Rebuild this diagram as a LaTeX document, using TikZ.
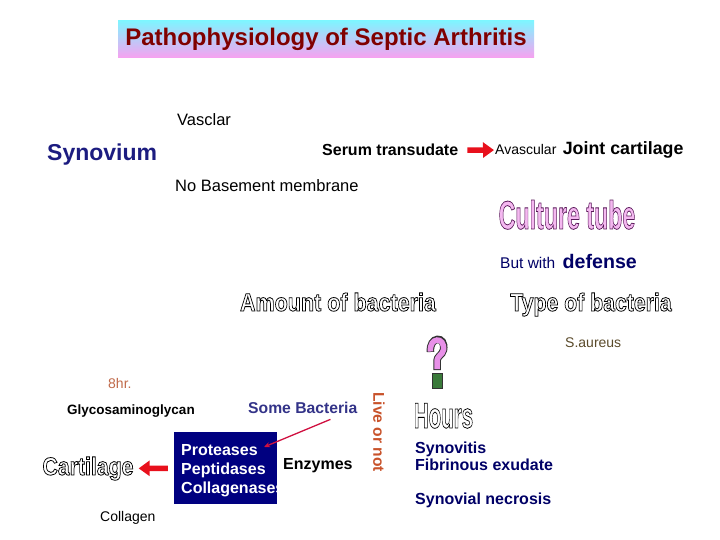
\documentclass[tikz,border=0pt]{standalone}
\usepackage{fontspec}
\setmainfont{Liberation Sans}
\usepackage{graphicx}
\usetikzlibrary{arrows.meta, positioning, calc}
\definecolor{titlered}{HTML}{800000}
\definecolor{titletop}{HTML}{80F4FF}
\definecolor{titlebot}{HTML}{F8A0F0}
\definecolor{synnavy}{HTML}{1C1C80}
\definecolor{bactblue}{HTML}{333388}
\definecolor{deepnavy}{HTML}{000066}
\definecolor{boxnavy}{HTML}{000080}
\definecolor{liveor}{HTML}{C8522A}
\definecolor{hrbrown}{HTML}{C06A4A}
\definecolor{aureus}{HTML}{5A4A2A}
\definecolor{arrowred}{HTML}{E8101C}
\definecolor{thinred}{HTML}{D01040}
\definecolor{cultpink}{HTML}{F4B8F0}
\definecolor{qpink}{HTML}{E890E8}
\definecolor{qgreen}{HTML}{3A7A3A}
\newcommand\wordart[4]{\scalebox{#1}[1]{{\color{#2}\special{pdf:literal direct #3 RG 0.8 w 2 Tr}#4\special{pdf:literal direct 0 Tr}}}}

\begin{document}
\begin{tikzpicture}[
    x=1pt, y=-1pt,
    txt/.style={inner sep=0pt, anchor=base west, font=\fontsize{16.5}{19}\selectfont},
    small/.style={txt, font=\fontsize{14}{17}\selectfont},
    boldtxt/.style={txt, font=\fontsize{16}{17}\selectfont\bfseries},
    art/.style={inner sep=0pt, anchor=base, font=\fontsize{#1}{#1}\selectfont\bfseries},
    titlebox/.style={rectangle, minimum width=416pt, minimum height=37pt, inner sep=0pt, top color=titletop, bottom color=titlebot, text=titlered, font=\fontsize{24}{28}\selectfont\bfseries},
    enzbox/.style={rectangle, fill=boxnavy, minimum width=103pt, minimum height=72pt, inner sep=0pt},
    blockarrow/.style={-{Triangle[length=11pt, width=15pt]}, line width=5.5pt, draw=arrowred},
    pointer/.style={-{Stealth[length=6pt, width=5pt]}, line width=1.3pt, draw=thinred}
]
\useasboundingbox (0,0) rectangle (720,540);

\node[titlebox] (title) at (326,39.5) {Pathophysiology of Septic Arthritis};

\node[txt] (vasc) at (177,126) {Vasclar};
\node[txt, font=\fontsize{23}{26}\selectfont\bfseries, text=synnavy] (syn) at (47,161) {Synovium};
\node[boldtxt] (serum) at (322,156) {Serum transudate};
\node[small] (avasc) at (495,155) {Avascular};
\node[txt, font=\fontsize{17.8}{20}\selectfont\bfseries] (joint) at ([xshift=6pt]avasc.base east) {Joint cartilage};
\node[txt] (nobm) at (175,192) {No Basement membrane};

\draw[blockarrow, shorten <=9pt, shorten >=1pt] (serum) -- (avasc);

\node[art=40] (culture) at (567,229) {\wordart{0.58}{cultpink}{0.35 0.1 0.35}{Culture tube}};
\node[txt, font=\fontsize{15.5}{18}\selectfont, text=deepnavy] (butwith) at (500,268) {But with};
\node[txt, font=\fontsize{19.6}{22}\selectfont\bfseries, text=deepnavy] (defense) at ([xshift=7pt]butwith.base east) {defense};

\node[art=25] (amount) at (338,311) {\wordart{0.86}{white}{0 0 0}{Amount of bacteria}};
\node[art=25] (type) at (591,311) {\wordart{0.85}{white}{0 0 0}{Type of bacteria}};
\node[small, text=aureus] (saureus) at (565,347) {S.aureus};

\draw[line width=7.5pt, draw=black!80] (430.5,352) .. controls (429,336) and (446,335) .. (443.5,350) .. controls (442,356) and (437,355) .. (437,362) -- (437,370);
\draw[line width=5.5pt, draw=qpink] (430.5,351.5) .. controls (429,337) and (445,336) .. (443.5,350) .. controls (442,356) and (437,355) .. (437,362) -- (437,369);
\fill[qgreen, draw=black!80] (432,373) rectangle (442,388);

\node[small, text=hrbrown] (eighthr) at (108,388) {8hr.};
\node[txt, font=\fontsize{13.5}{16}\selectfont\bfseries] (glyco) at (67,414) {Glycosaminoglycan};
\node[txt, font=\fontsize{15.7}{18}\selectfont\bfseries, text=bactblue] (somebact) at (248,413) {Some Bacteria};
\node[inner sep=0pt, rotate=-90, font=\fontsize{15.6}{18}\selectfont\bfseries, text=liveor] (live) at (379,432) {Live or not};

\node[enzbox] (box) at (225.5,468) {};
\begin{scope}
\clip (box.south west) rectangle (box.north east);
\node[inner sep=0pt, anchor=north west, align=left, text=white, font=\fontsize{16}{19}\selectfont\bfseries] (enzlist) at (181,444) {Proteases\\Peptidases\\Collagenases};
\end{scope}
\node[boldtxt] (enzymes) at (283,469) {Enzymes};
\coordinate (bactend) at (264,447);
\draw[pointer] ([shift={(-27,6)}]somebact.south east) -- (bactend);

\node[art=25] (cart) at (88,475) {\wordart{0.85}{white}{0 0 0}{Cartilage}};
\draw[blockarrow, shorten <=6pt, shorten >=5pt] (box) -- (cart);
\node[small] (collagen) at (100,521) {Collagen};

\node[art=36] (hours) at (443.5,428) {\wordart{0.57}{white}{0 0 0}{Hours}};
\node[boldtxt, anchor=north west, align=left, text=deepnavy] (synov) at (415,441.5) {Synovitis\\Fibrinous exudate};
\node[boldtxt, text=deepnavy] (necrosis) at (415,504) {Synovial necrosis};

\end{tikzpicture}
\end{document}
